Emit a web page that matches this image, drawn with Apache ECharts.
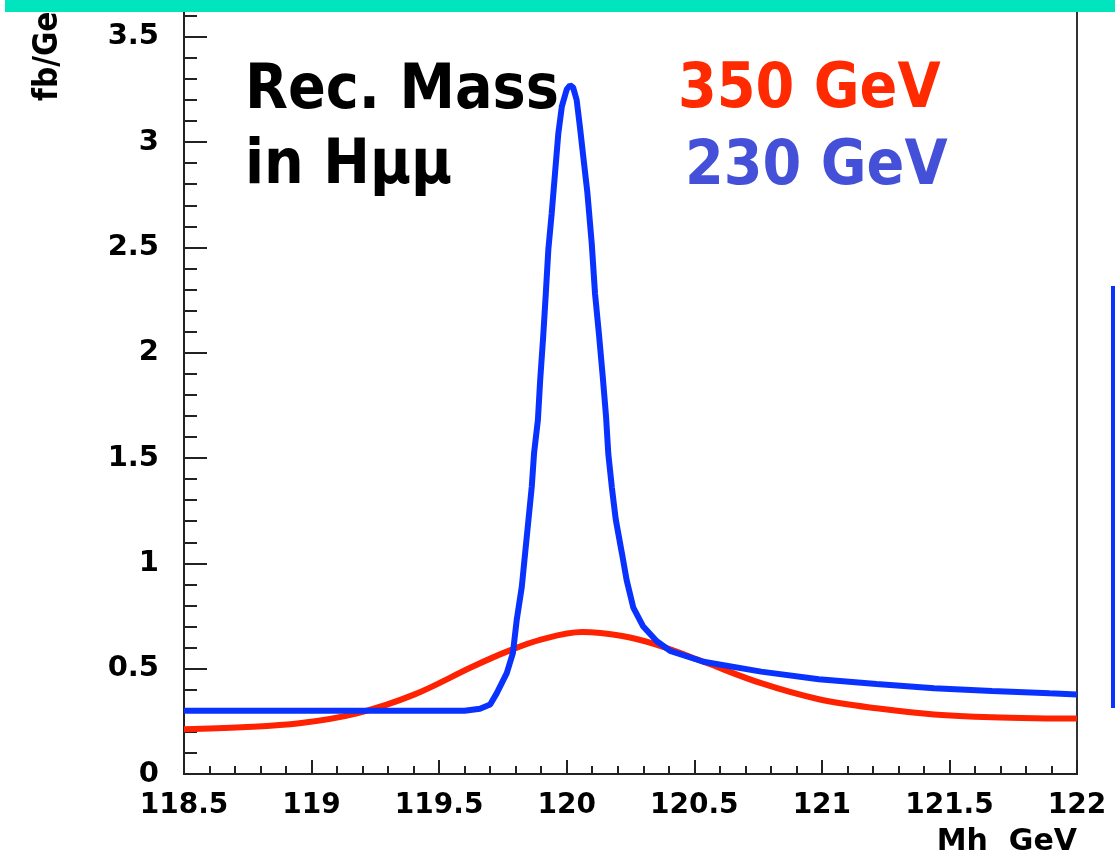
<!DOCTYPE html>
<html>
<head>
<meta charset="utf-8">
<script src="https://cdn.jsdelivr.net/npm/echarts@6/dist/echarts.min.js"></script>
<style>
  html, body { margin: 0; padding: 0; background: #ffffff; }
  #chart { width: 1115px; height: 853px; }
</style>
</head>
<body>
<div id="chart"></div>
<script>
// Reconstructed Higgs mass (H -> mu mu), fb/GeV versus Mh in GeV
const mass230 = [118.5, 119.0, 119.5, 119.6, 119.66, 119.70, 119.726, 119.765, 119.789, 119.804,
  119.824, 119.837, 119.850, 119.863, 119.872, 119.887, 119.896, 119.908, 119.918, 119.928,
  119.941, 119.954, 119.967, 119.981, 120.0, 120.013, 120.025, 120.039, 120.052, 120.065,
  120.081, 120.098, 120.111, 120.127, 120.141, 120.154, 120.163, 120.177, 120.192, 120.216,
  120.235, 120.261, 120.300, 120.353, 120.405, 120.536, 120.762, 120.988, 121.214, 121.440,
  121.667, 121.893, 122.0];
const value230 = [0.30, 0.30, 0.30, 0.30, 0.31, 0.33, 0.384, 0.479, 0.574, 0.731,
  0.889, 1.048, 1.206, 1.364, 1.523, 1.68, 1.87, 2.08, 2.28, 2.49,
  2.66, 2.85, 3.04, 3.17, 3.25, 3.27, 3.26, 3.20, 3.07, 2.93,
  2.76, 2.52, 2.28, 2.08, 1.89, 1.70, 1.52, 1.36, 1.21, 1.05,
  0.92, 0.79, 0.70, 0.63, 0.585, 0.533, 0.486, 0.450, 0.427, 0.407,
  0.394, 0.383, 0.378];

const mass350 = [118.5, 118.726, 118.952, 119.178, 119.404, 119.630, 119.765, 119.902, 120.06,
  120.218, 120.354, 120.536, 120.762, 120.988, 121.214, 121.440, 121.667, 121.893, 122.0];
const value350 = [0.212, 0.222, 0.241, 0.288, 0.378, 0.509, 0.581, 0.639, 0.674,
  0.655, 0.613, 0.533, 0.431, 0.355, 0.312, 0.283, 0.269, 0.264, 0.263];

const xTicks = [118.5, 122, 0.5];   // min, max, step
const yTicks = [0, 3.651, 0.5];     // min, max, step

const zip = (xs, ys) => xs.map((x, i) => [x, ys[i]]);

const axisFont = '"DejaVu Sans", sans-serif';
const bigFont = 'bold 62px "DejaVu Sans Condensed", "DejaVu Sans", sans-serif';

const chart = echarts.init(document.getElementById('chart'), null, { renderer: 'canvas' });
chart.setOption({
  animation: false,
  backgroundColor: '#ffffff',
  grid: {
    left: 184, right: 38, top: 5, bottom: 79,
    show: true, borderColor: '#333333', borderWidth: 2, backgroundColor: 'transparent'
  },
  xAxis: {
    type: 'value',
    min: xTicks[0], max: xTicks[1], interval: xTicks[2],
    axisLine: { show: true, lineStyle: { color: '#222222', width: 2 } },
    axisTick: { show: true, inside: true, length: 14, lineStyle: { color: '#222222', width: 2 } },
    minorTick: { show: true, splitNumber: 5, length: 8, lineStyle: { color: '#222222', width: 2 } },
    splitLine: { show: false },
    axisLabel: {
      show: true, margin: 18, color: '#000000',
      fontFamily: axisFont, fontWeight: 'bold', fontSize: 28
    }
  },
  yAxis: {
    type: 'value',
    min: yTicks[0], max: yTicks[1], interval: yTicks[2],
    axisLine: { show: true, lineStyle: { color: '#222222', width: 2 } },
    axisTick: { show: true, inside: true, length: 23, lineStyle: { color: '#222222', width: 2 } },
    minorTick: { show: true, splitNumber: 5, length: 13, lineStyle: { color: '#222222', width: 2 } },
    splitLine: { show: false },
    axisLabel: {
      show: true, margin: 25, color: '#000000', showMaxLabel: false,
      fontFamily: axisFont, fontWeight: 'bold', fontSize: 29
    }
  },
  series: [
    {
      name: '350 GeV', type: 'line', data: zip(mass350, value350),
      showSymbol: false, symbol: 'none', smooth: 0.35,
      lineStyle: { color: '#ff2200', width: 6 }, z: 3
    },
    {
      name: '230 GeV', type: 'line', data: zip(mass230, value230),
      showSymbol: false, symbol: 'none', smooth: false,
      lineStyle: { color: '#0a32ff', width: 6 }, z: 4
    }
  ],
  graphic: [
    { type: 'text', x: 245, y: 92, z: 10,
      style: { text: 'Rec. Mass', font: bigFont, fill: '#000000',
               align: 'left', verticalAlign: 'middle', textAlign: 'left', textVerticalAlign: 'middle' } },
    { type: 'text', x: 245, y: 167, z: 10,
      style: { text: 'in Hμμ', font: bigFont, fill: '#000000',
               align: 'left', verticalAlign: 'middle', textAlign: 'left', textVerticalAlign: 'middle' } },
    { type: 'text', x: 678, y: 91, z: 10,
      style: { text: '350 GeV', font: bigFont, fill: '#ff2a00',
               align: 'left', verticalAlign: 'middle', textAlign: 'left', textVerticalAlign: 'middle' } },
    { type: 'text', x: 685, y: 168, z: 10,
      style: { text: '230 GeV', font: bigFont, fill: '#4450d8',
               align: 'left', verticalAlign: 'middle', textAlign: 'left', textVerticalAlign: 'middle' } },
    { type: 'text', x: 1077, y: 842, z: 10,
      style: { text: 'Mh  GeV', font: 'bold 30px ' + axisFont, fill: '#000000',
               align: 'right', verticalAlign: 'middle', textAlign: 'right', textVerticalAlign: 'middle' } },
    { type: 'text', x: 48, y: 101, rotation: Math.PI / 2, z: 10,
      style: { text: 'fb/GeV', font: 'bold 33px "DejaVu Sans Condensed", ' + axisFont, fill: '#000000',
               align: 'left', verticalAlign: 'middle', textAlign: 'left', textVerticalAlign: 'middle' } },
    { type: 'rect', z: 20, shape: { x: 5, y: 0, width: 1110, height: 12 },
      style: { fill: '#00e5bd' } },
    { type: 'rect', z: 20, shape: { x: 1111, y: 286, width: 4, height: 422 },
      style: { fill: '#0a32ff' } }
  ]
});
</script>
</body>
</html>
